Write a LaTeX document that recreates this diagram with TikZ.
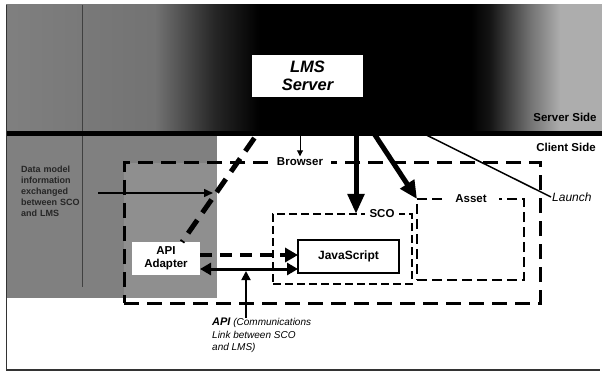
\documentclass[tikz,border=0pt]{standalone}
\usepackage{fontspec}
\setmainfont{Liberation Sans}
\usetikzlibrary{arrows.meta,calc}
\definecolor{bgA}{gray}{0.50}
\definecolor{bgB}{gray}{0.45}
\definecolor{bgC}{gray}{0.15}
\definecolor{bgD}{gray}{0.08}
\definecolor{bgE}{gray}{0.45}
\definecolor{bgF}{gray}{0.68}
\definecolor{lowgray}{gray}{0.50}
\definecolor{lowgrayB}{gray}{0.56}
% the path spans 25bp..75bp of the shading
\pgfdeclarehorizontalshading{band}{100bp}{color(0bp)=(bgA); color(25bp)=(bgA); color(37.5bp)=(bgB); color(42.5bp)=(bgC); color(46.3bp)=(black); color(64bp)=(black); color(65.6bp)=(bgD); color(69bp)=(bgE); color(71.5bp)=(bgF); color(100bp)=(bgF)}
\tikzset{
  lbl/.style={font=\bfseries\fontsize{11.5}{13}\selectfont, inner sep=1.5pt},
  browserline/.style={line width=3pt, dash pattern=on 15pt off 8pt},
  scoline/.style={line width=1.5pt, dash pattern=on 8pt off 4pt},
  assetline/.style={line width=2pt, dash pattern=on 10pt off 5pt},
  thickarrow/.style={line width=5pt, -{Triangle[length=20pt,width=16pt]}},
  thinarrow/.style={line width=1pt, -{Triangle[length=6pt,width=6pt]}},
}
\begin{document}
\begin{tikzpicture}[x=1pt,y=-1pt]
\useasboundingbox (0,0) rectangle (602,374);
% lower backgrounds
\fill[lowgray] (6,134) rectangle (217,298);
\fill[lowgrayB] (124,163) rectangle (217,298);
\draw[black!75, line width=0.8pt] (82,134) -- (82,287);
% boxes
\node[draw, browserline, minimum width=416pt, minimum height=140pt, outer sep=0pt] (browser) at (332,233) {};
\node[lbl, fill=white, inner xsep=8pt] (browserlbl) at (300,162) {Browser};
\node[draw, scoline, minimum width=139pt, minimum height=70pt, outer sep=0pt] (sco) at (342.5,249) {};
\node[lbl, fill=white, inner xsep=5pt] (scolbl) at (382,214) {SCO};
\node[draw, assetline, minimum width=107pt, minimum height=81pt, outer sep=0pt] (asset) at (470.5,239.5) {};
\node[lbl, fill=white, inner xsep=12pt] (assetlbl) at (471,199) {Asset};
\node[draw, line width=2pt, fill=white, minimum width=101pt, minimum height=33pt, outer sep=0pt, font=\bfseries\fontsize{12}{14}\selectfont] (js) at (348.5,256.5) {JavaScript};
\node[fill=white, minimum width=68pt, minimum height=33pt, outer sep=0pt, inner sep=0pt, align=center, font=\bfseries\fontsize{11.5}{13}\selectfont] (adapter) at (166,258.5) {API\\Adapter};
% texts
\node[lbl] (client) at (566,147) {Client Side};
\node[font=\itshape\fontsize{12}{14}\selectfont, anchor=west, inner sep=1pt] (launch) at (551,197) {Launch};
\node[anchor=north west, align=left, inner sep=0pt, font=\itshape\fontsize{10}{12.5}\selectfont] (apitext) at (212,318) {{\bfseries\fontsize{11}{12.5}\selectfont API} (Communications\\Link between SCO\\and LMS)};
\node[anchor=north west, align=left, inner sep=0pt, text width=77pt, text=black!85, font=\bfseries\fontsize{9}{11}\selectfont] (dm) at (21,166) {Data model\\information\\exchanged\\between SCO\\and LMS};
% LMS server node (placed first so connectors can refer to it; redrawn on top later)
\path (307.5,76) node[minimum width=111pt, minimum height=42pt, inner sep=0pt, outer sep=0pt] (lms) {};
% coordinates
\coordinate (hub) at ($(lms.south east)+(-13,0)$);
\coordinate (scoin) at (356,214);
\coordinate (apiy) at (246,269);
\coordinate (dmend) at (213,193);
% connectors
\draw[black, line width=5pt, dash pattern=on 16pt off 9pt] ([xshift=-24.5pt]lms.south) -- ([xshift=16pt]adapter.north);
\draw[thinarrow] (lms.south -| browserlbl.north) -- (browserlbl.north);
\draw[thickarrow] (lms.south -| scoin) -- (scoin);
\draw[thickarrow, -{Triangle[length=18pt,width=16pt]}] (hub) -- (asset.north west);
\draw[line width=1.5pt] (hub) -- (launch.west);
\draw[line width=1.5pt, -{Triangle[length=9pt,width=8pt]}] (dm.east |- dmend) -- (dmend);
\draw[line width=4pt, dash pattern=on 12pt off 8pt, -{Triangle[length=13pt,width=14pt]}] ([yshift=3.5pt]adapter.east) -- ([yshift=1.5pt]js.west);
\draw[line width=3pt, {Triangle[length=11pt,width=12pt]}-{Triangle[length=11pt,width=12pt]}] (adapter.east |- apiy) -- (js.west |- apiy);
\draw[line width=1.8pt, -{Triangle[length=9pt,width=9pt]}] (apitext.north -| apiy) -- ([yshift=-2pt]apiy);
% server side band over the connector starts
\shade[shading=band] (6,5) rectangle (602,134);
\draw[black!75, line width=0.8pt] (82,5) -- (82,134);
\draw[black, line width=5pt] (6,134) -- (602,134);
\draw[black!80, line width=1.2pt] (6.5,5) -- (6.5,370) -- (600,370);
\node[lbl, text=black] (server) at (565,117) {Server Side};
\node[fill=white, minimum width=111pt, minimum height=42pt, inner sep=0pt, outer sep=0pt, align=center, font=\bfseries\itshape\fontsize{16.5}{17.5}\selectfont] (lmsbox) at (lms) {LMS\\Server};
\end{tikzpicture}
\end{document}
